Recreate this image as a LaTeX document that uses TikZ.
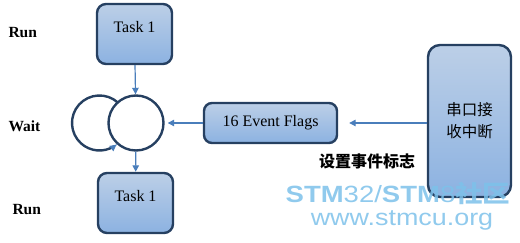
\documentclass[tikz,border=0pt]{standalone}
\usepackage{fontspec}
\setmainfont{Liberation Serif}
\newfontfamily\cjk{Noto Sans CJK SC}
\newfontfamily\wmfont[FakeStretch=1.17]{Liberation Sans}
\newfontfamily\wmcjk[FakeStretch=1.17]{Noto Sans CJK SC}
\usetikzlibrary{positioning, arrows.meta, calc}
\definecolor{boxline}{RGB}{38,64,97}
\definecolor{boxtop}{RGB}{188,207,231}
\definecolor{boxbot}{RGB}{140,178,225}
\definecolor{arrowc}{RGB}{74,126,187}
\definecolor{wmark}{RGB}{125,193,234}

\begin{document}
\begin{tikzpicture}[x=1pt, y=1pt, font=\fontsize{16}{19}\selectfont, >={Triangle[length=6.5pt, width=6.5pt]},
  task/.style={draw=boxline, line width=2.4pt, rounded corners=9pt, top color=boxtop, bottom color=boxbot, minimum width=75pt, minimum height=60pt, text depth=14pt},
  flags/.style={draw=boxline, line width=2.4pt, rounded corners=8pt, top color=boxtop, bottom color=boxbot, minimum width=133pt, minimum height=40pt},
  isr/.style={draw=boxline, line width=2.4pt, rounded corners=12pt, top color=boxtop, bottom color=boxbot, minimum width=83pt, minimum height=152pt, align=center},
  waitc/.style={draw=boxline, line width=2.4pt, circle, minimum size=55pt, inner sep=0pt},
  lane/.style={anchor=west, font=\fontsize{15.5}{18}\selectfont\bfseries},
  wmtext/.style={text=wmark, opacity=0.85, inner sep=0pt},
  link/.style={->, draw=arrowc, line width=1.2pt}]
  \useasboundingbox (0,0) rectangle (520,243);
  % state labels
  \node[lane] (run1) at (5,210) {Run};
  \node[lane] (wait) at (5,117) {Wait};
  \node[lane] (run2) at (9,33) {Run};
  % tasks and wait loop
  \node[task] (t1) at (134.5,209) {Task 1};
  \node[task] (t2) at (135.5,40) {Task 1};
  \node[waitc] (w) at (136,120) {};
  \coordinate (wl) at (99.5,120);
  \node[flags] (ef) at (270.5,120) {16 Event Flags};
  \node[isr] (rx) at (469.5,122) {\fontsize{15.5}{19}\cjk 串口接\\[3pt]\fontsize{15.5}{19}\cjk 收中断};
  \node[font=\fontsize{16}{18}\cjk\bfseries] (set) at (367,82) {设置事件标志};
  % connectors
  \draw[link] (t1) -- (w);
  \draw[link] (w) -- (t2);
  \draw[link, shorten >=3pt] (ef) -- (w);
  \draw[link, shorten >=11pt] (rx.west |- ef) -- (ef);
  \draw[draw=boxline, line width=2.4pt] ($(wl)+(48:27.5)$) arc[start angle=48, end angle=302, radius=27.5];
  \draw[link] ($(wl)+(300:27.5)$) arc[start angle=300, end angle=308, radius=27.5];
  % watermark
  \node[wmtext, anchor=base, text depth=0pt, font=\fontsize{23.5}{26}\wmfont] (wm1) at (398,40) {\textbf{STM}32/\textbf{STM}8\textbf{\wmcjk 社区}};
  \node[wmtext, anchor=base, text height=12pt, font=\fontsize{23}{26}\wmfont] (wm2) at (402,17.5) {www.stmcu.org};
\end{tikzpicture}
\end{document}
